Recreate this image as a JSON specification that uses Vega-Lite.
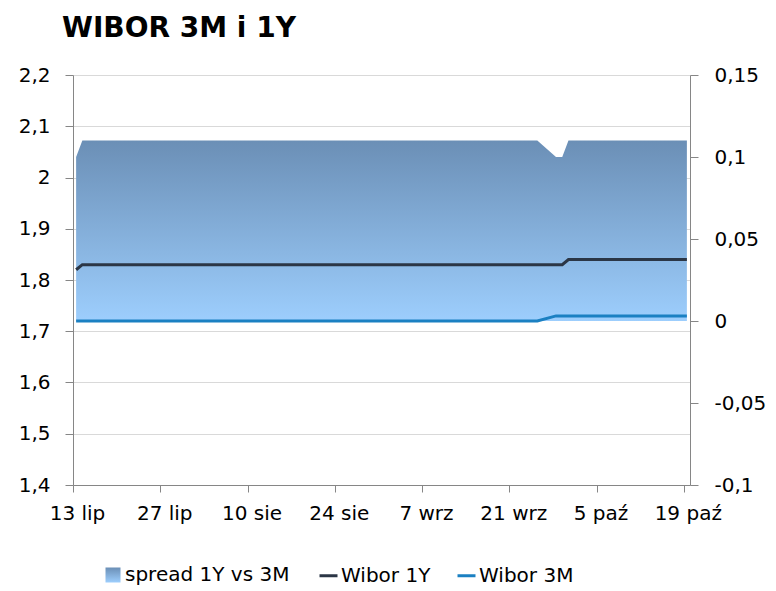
{
  "$schema": "https://vega.github.io/schema/vega-lite/v6.json",
  "autosize": "none",
  "width": 617,
  "height": 410,
  "padding": {"left": 73, "top": 75, "right": 86, "bottom": 106},
  "title": {
    "text": "WIBOR 3M i 1Y",
    "anchor": "start",
    "frame": "group",
    "dx": -11,
    "offset": 22,
    "font": "DejaVu Sans",
    "fontSize": 28,
    "fontWeight": "bold",
    "color": "#000000"
  },
  "data": {
    "values": [
      {"d": "2015-07-13", "w1y": 1.82, "w3m": 1.72, "spread": 0.10},
      {"d": "2015-07-14", "w1y": 1.83, "w3m": 1.72, "spread": 0.11},
      {"d": "2015-07-15", "w1y": 1.83, "w3m": 1.72, "spread": 0.11},
      {"d": "2015-07-16", "w1y": 1.83, "w3m": 1.72, "spread": 0.11},
      {"d": "2015-07-17", "w1y": 1.83, "w3m": 1.72, "spread": 0.11},
      {"d": "2015-07-20", "w1y": 1.83, "w3m": 1.72, "spread": 0.11},
      {"d": "2015-07-21", "w1y": 1.83, "w3m": 1.72, "spread": 0.11},
      {"d": "2015-07-22", "w1y": 1.83, "w3m": 1.72, "spread": 0.11},
      {"d": "2015-07-23", "w1y": 1.83, "w3m": 1.72, "spread": 0.11},
      {"d": "2015-07-24", "w1y": 1.83, "w3m": 1.72, "spread": 0.11},
      {"d": "2015-07-27", "w1y": 1.83, "w3m": 1.72, "spread": 0.11},
      {"d": "2015-07-28", "w1y": 1.83, "w3m": 1.72, "spread": 0.11},
      {"d": "2015-07-29", "w1y": 1.83, "w3m": 1.72, "spread": 0.11},
      {"d": "2015-07-30", "w1y": 1.83, "w3m": 1.72, "spread": 0.11},
      {"d": "2015-07-31", "w1y": 1.83, "w3m": 1.72, "spread": 0.11},
      {"d": "2015-08-03", "w1y": 1.83, "w3m": 1.72, "spread": 0.11},
      {"d": "2015-08-04", "w1y": 1.83, "w3m": 1.72, "spread": 0.11},
      {"d": "2015-08-05", "w1y": 1.83, "w3m": 1.72, "spread": 0.11},
      {"d": "2015-08-06", "w1y": 1.83, "w3m": 1.72, "spread": 0.11},
      {"d": "2015-08-07", "w1y": 1.83, "w3m": 1.72, "spread": 0.11},
      {"d": "2015-08-10", "w1y": 1.83, "w3m": 1.72, "spread": 0.11},
      {"d": "2015-08-11", "w1y": 1.83, "w3m": 1.72, "spread": 0.11},
      {"d": "2015-08-12", "w1y": 1.83, "w3m": 1.72, "spread": 0.11},
      {"d": "2015-08-13", "w1y": 1.83, "w3m": 1.72, "spread": 0.11},
      {"d": "2015-08-14", "w1y": 1.83, "w3m": 1.72, "spread": 0.11},
      {"d": "2015-08-17", "w1y": 1.83, "w3m": 1.72, "spread": 0.11},
      {"d": "2015-08-18", "w1y": 1.83, "w3m": 1.72, "spread": 0.11},
      {"d": "2015-08-19", "w1y": 1.83, "w3m": 1.72, "spread": 0.11},
      {"d": "2015-08-20", "w1y": 1.83, "w3m": 1.72, "spread": 0.11},
      {"d": "2015-08-21", "w1y": 1.83, "w3m": 1.72, "spread": 0.11},
      {"d": "2015-08-24", "w1y": 1.83, "w3m": 1.72, "spread": 0.11},
      {"d": "2015-08-25", "w1y": 1.83, "w3m": 1.72, "spread": 0.11},
      {"d": "2015-08-26", "w1y": 1.83, "w3m": 1.72, "spread": 0.11},
      {"d": "2015-08-27", "w1y": 1.83, "w3m": 1.72, "spread": 0.11},
      {"d": "2015-08-28", "w1y": 1.83, "w3m": 1.72, "spread": 0.11},
      {"d": "2015-08-31", "w1y": 1.83, "w3m": 1.72, "spread": 0.11},
      {"d": "2015-09-01", "w1y": 1.83, "w3m": 1.72, "spread": 0.11},
      {"d": "2015-09-02", "w1y": 1.83, "w3m": 1.72, "spread": 0.11},
      {"d": "2015-09-03", "w1y": 1.83, "w3m": 1.72, "spread": 0.11},
      {"d": "2015-09-04", "w1y": 1.83, "w3m": 1.72, "spread": 0.11},
      {"d": "2015-09-07", "w1y": 1.83, "w3m": 1.72, "spread": 0.11},
      {"d": "2015-09-08", "w1y": 1.83, "w3m": 1.72, "spread": 0.11},
      {"d": "2015-09-09", "w1y": 1.83, "w3m": 1.72, "spread": 0.11},
      {"d": "2015-09-10", "w1y": 1.83, "w3m": 1.72, "spread": 0.11},
      {"d": "2015-09-11", "w1y": 1.83, "w3m": 1.72, "spread": 0.11},
      {"d": "2015-09-14", "w1y": 1.83, "w3m": 1.72, "spread": 0.11},
      {"d": "2015-09-15", "w1y": 1.83, "w3m": 1.72, "spread": 0.11},
      {"d": "2015-09-16", "w1y": 1.83, "w3m": 1.72, "spread": 0.11},
      {"d": "2015-09-17", "w1y": 1.83, "w3m": 1.72, "spread": 0.11},
      {"d": "2015-09-18", "w1y": 1.83, "w3m": 1.72, "spread": 0.11},
      {"d": "2015-09-21", "w1y": 1.83, "w3m": 1.72, "spread": 0.11},
      {"d": "2015-09-22", "w1y": 1.83, "w3m": 1.72, "spread": 0.11},
      {"d": "2015-09-23", "w1y": 1.83, "w3m": 1.72, "spread": 0.11},
      {"d": "2015-09-24", "w1y": 1.83, "w3m": 1.72, "spread": 0.11},
      {"d": "2015-09-25", "w1y": 1.83, "w3m": 1.72, "spread": 0.11},
      {"d": "2015-09-28", "w1y": 1.83, "w3m": 1.73, "spread": 0.10},
      {"d": "2015-09-29", "w1y": 1.83, "w3m": 1.73, "spread": 0.10},
      {"d": "2015-09-30", "w1y": 1.84, "w3m": 1.73, "spread": 0.11},
      {"d": "2015-10-01", "w1y": 1.84, "w3m": 1.73, "spread": 0.11},
      {"d": "2015-10-02", "w1y": 1.84, "w3m": 1.73, "spread": 0.11},
      {"d": "2015-10-05", "w1y": 1.84, "w3m": 1.73, "spread": 0.11},
      {"d": "2015-10-06", "w1y": 1.84, "w3m": 1.73, "spread": 0.11},
      {"d": "2015-10-07", "w1y": 1.84, "w3m": 1.73, "spread": 0.11},
      {"d": "2015-10-08", "w1y": 1.84, "w3m": 1.73, "spread": 0.11},
      {"d": "2015-10-09", "w1y": 1.84, "w3m": 1.73, "spread": 0.11},
      {"d": "2015-10-12", "w1y": 1.84, "w3m": 1.73, "spread": 0.11},
      {"d": "2015-10-13", "w1y": 1.84, "w3m": 1.73, "spread": 0.11},
      {"d": "2015-10-14", "w1y": 1.84, "w3m": 1.73, "spread": 0.11},
      {"d": "2015-10-15", "w1y": 1.84, "w3m": 1.73, "spread": 0.11},
      {"d": "2015-10-16", "w1y": 1.84, "w3m": 1.73, "spread": 0.11},
      {"d": "2015-10-19", "w1y": 1.84, "w3m": 1.73, "spread": 0.11}
    ]
  },
  "encoding": {
    "x": {
      "field": "d",
      "type": "temporal",
      "timeUnit": "utcyearmonthdate",
      "bandPosition": 0.5,
      "title": null,
      "scale": {
        "type": "utc",
        "domain": [
          {"year": 2015, "month": 7, "date": 13, "utc": true},
          {"year": 2015, "month": 10, "date": 20, "utc": true}
        ]
      },
      "axis": {
        "values": [
          {"year": 2015, "month": 7, "date": 13, "utc": true},
          {"year": 2015, "month": 7, "date": 27, "utc": true},
          {"year": 2015, "month": 8, "date": 10, "utc": true},
          {"year": 2015, "month": 8, "date": 24, "utc": true},
          {"year": 2015, "month": 9, "date": 7, "utc": true},
          {"year": 2015, "month": 9, "date": 21, "utc": true},
          {"year": 2015, "month": 10, "date": 5, "utc": true},
          {"year": 2015, "month": 10, "date": 19, "utc": true}
        ],
        "labelExpr": "utcdate(datum.value) + ' ' + ['sty','lut','mar','kwi','maj','cze','lip','sie','wrz','paź','lis','gru'][utcmonth(datum.value)]",
        "grid": false,
        "tickSize": 7,
        "labelPadding": 11,
        "labelOffset": 4,
        "labelFontSize": 20,
        "labelOverlap": false,
        "labelFlush": false
      }
    }
  },
  "layer": [
    {
      "mark": {"type": "area", "opacity": 1},
      "encoding": {
        "x": {
          "field": "d",
          "type": "temporal",
          "timeUnit": "utcyearmonthdate",
          "bandPosition": 0.5
        },
        "y": {
          "field": "spread",
          "type": "quantitative",
          "stack": null,
          "title": null,
          "scale": {"domain": [-0.1, 0.15], "nice": false},
          "axis": {
            "orient": "right",
            "values": [-0.1, -0.05, 0, 0.05, 0.1, 0.15],
            "labelExpr": "replace(replace(format(datum.value, '.2~f'), '.', ','), '−', '-')",
            "grid": false,
            "tickSize": 8,
            "labelPadding": 16,
            "labelFontSize": 20
          }
        },
        "fill": {
          "datum": "spread 1Y vs 3M",
          "scale": {
            "domain": ["spread 1Y vs 3M"],
            "range": [{"expr": "{gradient: 'linear', x1: 0, y1: 0, x2: 0, y2: 1, stops: [{offset: 0, color: '#6b8fb6'}, {offset: 1, color: '#9dcefd'}]}"}]
          },
          "legend": {
            "orient": "none",
            "legendX": 30,
            "legendY": 490,
            "title": null,
            "symbolType": "square",
            "symbolSize": 225,
            "symbolStrokeWidth": 0,
            "labelFontSize": 20,
            "labelOffset": 2,
            "labelLimit": 400
          }
        }
      }
    },
    {
      "layer": [
        {
          "mark": {"type": "line", "strokeWidth": 3},
          "encoding": {
            "y": {
              "field": "w1y",
              "type": "quantitative",
              "title": null,
              "scale": {"domain": [1.4, 2.2], "nice": false},
              "axis": {
                "orient": "left",
                "values": [1.4, 1.5, 1.6, 1.7, 1.8, 1.9, 2.0, 2.1, 2.2],
                "labelExpr": "replace(format(datum.value, '.2~f'), '.', ',')",
                "grid": true,
                "tickSize": 8,
                "labelPadding": 15,
                "labelFontSize": 20
              }
            },
            "color": {
              "datum": "Wibor 1Y",
              "scale": {"domain": ["Wibor 1Y", "Wibor 3M"], "range": ["#2b3646", "#1b80c2"]},
              "legend": {
                "orient": "none",
                "legendX": 245,
                "legendY": 490,
                "direction": "horizontal",
                "title": null,
                "symbolType": "stroke",
                "symbolSize": 324,
                "symbolStrokeWidth": 3,
                "labelFontSize": 20,
                "labelOffset": 2,
                "labelLimit": 400,
                "columnPadding": 20
              }
            }
          }
        },
        {
          "mark": {"type": "line", "strokeWidth": 3},
          "encoding": {
            "y": {"field": "w3m", "type": "quantitative"},
            "color": {"datum": "Wibor 3M"}
          }
        }
      ]
    }
  ],
  "resolve": {"scale": {"y": "independent"}},
  "config": {
    "view": {"stroke": null},
    "font": "DejaVu Sans",
    "axis": {
      "domainColor": "#868686",
      "tickColor": "#868686",
      "gridColor": "#d9d9d9",
      "labelColor": "#000000",
      "labelFont": "DejaVu Sans"
    },
    "legend": {"labelColor": "#000000", "labelFont": "DejaVu Sans"}
  }
}
